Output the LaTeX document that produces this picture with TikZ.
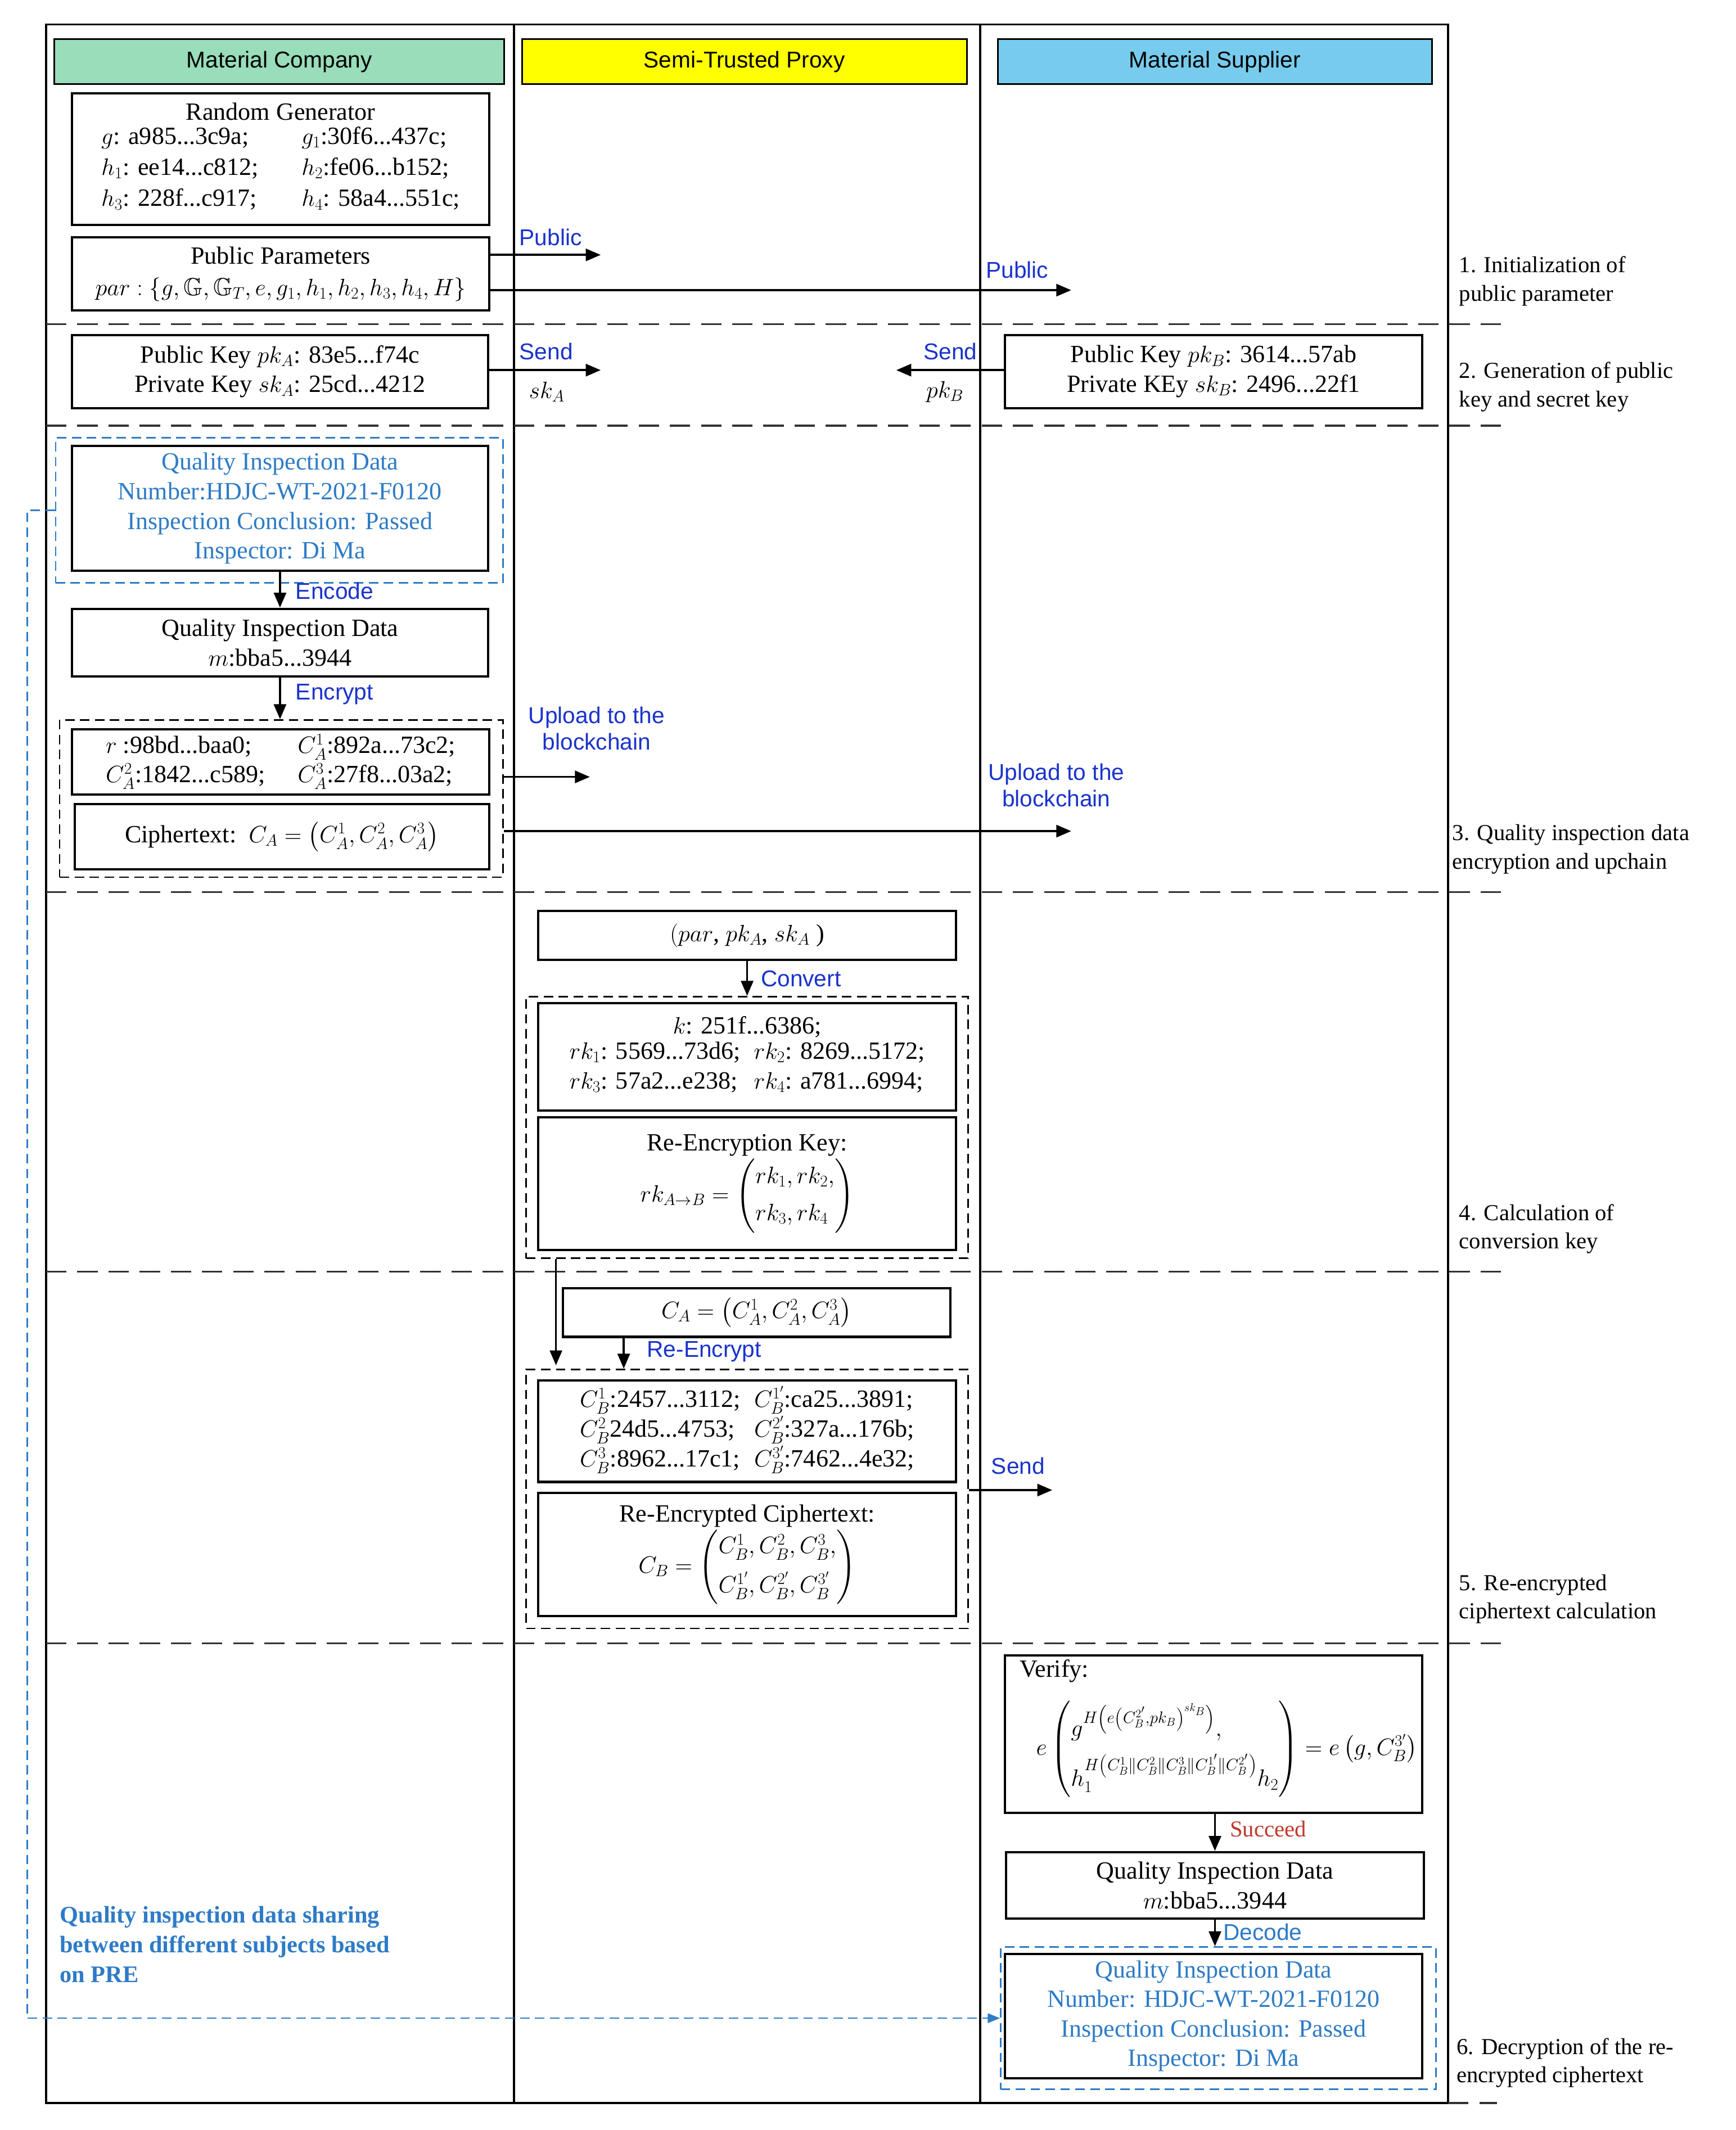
\documentclass[tikz,border=0pt]{standalone}
\usepackage{amsmath,amssymb}
\usepackage{fontspec}
\setmainfont{Liberation Serif}
\newfontfamily\hdr{Liberation Sans}
\usetikzlibrary{arrows.meta}
\definecolor{lblue}{HTML}{1A33CC}
\definecolor{dblue}{HTML}{2E7BC6}
\definecolor{hgreen}{HTML}{99DDBB}
\definecolor{hyellow}{HTML}{FFFF00}
\definecolor{hcyan}{HTML}{77CCEE}
\definecolor{sred}{HTML}{C0392B}
\begin{document}
\begin{tikzpicture}[x=0.05cm,y=-0.05cm,
  every node/.style={font=\fontsize{26}{31}\selectfont, inner sep=0pt},
  box/.style={draw, line width=2.4pt, align=center},
  hd/.style={draw, line width=1.8pt, font=\hdr\fontsize{24}{28}\selectfont, minimum height=1.65cm},
  dbox/.style={draw, dashed, line width=1.6pt, dash pattern=on 0.35cm off 0.2cm},
  bdbox/.style={dbox, draw=dblue},
  sep/.style={line width=2pt, draw=black!80, dash pattern=on 0.75cm off 0.4cm},
  arr/.style={line width=2.2pt, -{Triangle[length=0.55cm,width=0.45cm]}},
  lab/.style={font=\hdr\fontsize{24}{28}\selectfont, text=lblue, anchor=west, align=left},
  rl/.style={font=\fontsize{24}{30}\selectfont, anchor=north west, align=left}]
\useasboundingbox (0,0) rectangle (1280,1571);
\fill[white] (0,0) rectangle (1280,1571);
% frame
\draw[line width=2.2pt] (34,18) rectangle (1068,1551);
\draw[line width=2.2pt] (379,18) -- (379,1551);
\draw[line width=2.2pt] (723,18) -- (723,1551);
\foreach \yy in {239,314,658,938,1212} \draw[sep] (34,\yy) -- (1108,\yy);
\draw[sep] (1068,1551) -- (1104,1551);
% headers
\node[hd, fill=hgreen, minimum width=16.6cm] (h1) at (206,45.5) {Material Company};
\node[hd, fill=hyellow, minimum width=16.4cm] (h2) at (549,45.5) {Semi-Trusted Proxy};
\node[hd, fill=hcyan, minimum width=16.0cm] (h3) at (896,45.5) {Material Supplier};
% row 1
\node[box, minimum width=15.4cm, minimum height=4.85cm] (rg) at (207,117.5) {Random Generator\\[1pt]
\renewcommand{\arraystretch}{1.05}\begin{tabular}{@{}l@{\hspace{1.6cm}}l@{}}
$g$: a985...3c9a; & $g_1$:30f6...437c;\\
$h_1$: ee14...c812; & $h_2$:fe06...b152;\\
$h_3$: 228f...c917; & $h_4$: 58a4...551c;
\end{tabular}};
\node[box, minimum width=15.4cm, minimum height=2.7cm] (pp) at (207,202) {Public Parameters\\[2pt]
$par:\left\{g,\mathbb{G},\mathbb{G}_T,e,g_1,h_1,h_2,h_3,h_4,H\right\}$};
\coordinate (p1) at (443,188);
\coordinate (p2) at (790,214);
\draw[arr] (pp.east |- p1) -- (p1);
\draw[arr] (pp.east |- p2) -- (p2);
\node[lab] (lp1) at (383,175) {Public};
\node[lab] (lp2) at (727,199) {Public};
% row 2
\node[box, minimum width=15.35cm, minimum height=2.7cm] (ka) at (206.5,274) {Public Key $pk_A$: 83e5...f74c\\Private Key $sk_A$: 25cd...4212};
\node[box, minimum width=15.4cm, minimum height=2.7cm] (kb) at (895,274) {Public Key $pk_B$: 3614...57ab\\Private KEy $sk_B$: 2496...22f1};
\coordinate (s1) at (443,273);
\coordinate (s2) at (661,273);
\draw[arr] (ka.east |- s1) -- (s1);
\draw[arr] (kb.west |- s2) -- (s2);
\node[lab] (ls1) at (383,259) {Send};
\node[anchor=west] (ls1b) at (390,289) {$sk_A$};
\node[lab] (ls2) at (681,259) {Send};
\node[anchor=west] (ls2b) at (683,289) {$pk_B$};
% row 3
\node[bdbox, minimum width=16.5cm, minimum height=5.35cm] (qd1d) at (206,376.5) {};
\node[box, text=dblue, minimum width=15.35cm, minimum height=4.6cm] (qd1) at (206.5,375) {Quality Inspection Data\\Number:HDJC-WT-2021-F0120\\Inspection Conclusion: Passed\\Inspector: Di Ma};
\node[box, minimum width=15.35cm, minimum height=2.5cm] (md) at (206.5,474) {Quality Inspection Data\\$m$:bba5...3944};
\draw[arr] (qd1.south -| md.north) -- (md.north);
\node[lab] (len) at (218,436) {Encode};
\node[dbox, minimum width=16.35cm, minimum height=5.8cm] (cd) at (207.5,589) {};
\node[box, minimum width=15.4cm, minimum height=2.4cm] (cv) at (207,562) {\begin{tabular}{@{}l@{\hspace{1.2cm}}l@{}}
$r$ :98bd...baa0; & $C_A^1$:892a...73c2;\\
$C_A^2$:1842...c589; & $C_A^3$:27f8...03a2;
\end{tabular}};
\node[box, minimum width=15.3cm, minimum height=2.4cm] (ct) at (208,617) {Ciphertext:\ \ $C_A=\left(C_A^1,C_A^2,C_A^3\right)$};
\draw[arr] (md.south) -- (cd.north -| md.south);
\node[lab] (lenc) at (218,512) {Encrypt};
\coordinate (u1) at (435,573);
\coordinate (u2) at (790,613);
\draw[arr] (cd.east |- u1) -- (u1);
\draw[arr] (cd.east |- u2) -- (u2);
\node[lab, align=center, anchor=north] (lu1) at (440,521) {Upload to the\\blockchain};
\node[lab, align=center, anchor=north] (lu2) at (779,563) {Upload to the\\blockchain};
% row 4
\node[box, minimum width=15.4cm, minimum height=1.8cm] (ppk) at (551,690) {$(par$, $pk_A$, $sk_A$ )};
\node[dbox, minimum width=16.3cm, minimum height=9.65cm] (rkd) at (551,831.5) {};
\node[box, minimum width=15.4cm, minimum height=3.95cm] (rkv) at (551,779.5) {$k$: 251f...6386;\\
\begin{tabular}{@{}l@{\hspace{0.5cm}}l@{}}
$rk_1$: 5569...73d6; & $rk_2$: 8269...5172;\\
$rk_3$: 57a2...e238; & $rk_4$: a781...6994;
\end{tabular}};
\node[box, minimum width=15.4cm, minimum height=4.9cm] (rek) at (551,873) {Re-Encryption Key:\\[2pt]
$rk_{A\rightarrow B}=\left(\begin{array}{@{}l@{}}rk_1,rk_2,\\[8pt] rk_3,rk_4\end{array}\right)$};
\draw[arr] (ppk.south) -- (rkd.north -| ppk.south);
\node[lab] (lcv) at (561,722) {Convert};
% row 5
\node[box, minimum width=14.3cm, minimum height=1.8cm] (ca) at (558,968) {$C_A=\left(C_A^1,C_A^2,C_A^3\right)$};
\node[dbox, minimum width=16.3cm, minimum height=9.55cm] (red) at (551,1105.5) {};
\node[box, minimum width=15.4cm, minimum height=3.75cm] (cbv) at (551,1055.5) {\begin{tabular}{@{}l@{\hspace{0.5cm}}l@{}}
$C_B^1$:2457...3112; & $C_B^{1'}$:ca25...3891;\\
$C_B^2$24d5...4753; & $C_B^{2'}$:327a...176b;\\
$C_B^3$:8962...17c1; & $C_B^{3'}$:7462...4e32;
\end{tabular}};
\node[box, minimum width=15.4cm, minimum height=4.55cm] (rec) at (551,1146.5) {Re-Encrypted Ciphertext:\\[2pt]
$C_B=\left(\begin{array}{@{}l@{}}C_B^1,C_B^2,C_B^3,\\[10pt] C_B^{1'},C_B^{2'},C_B^{3'}\end{array}\right)$};
\coordinate (d1) at (410,1007);
\draw[arr] (rkd.south -| d1) -- (d1);
\draw[arr] (ca.south -| 460,0) -- (red.north -| 460,0);
\node[lab] (lre) at (477,997) {Re-Encrypt};
\coordinate (sd) at (776,1099);
\draw[arr] (red.east |- sd) -- (sd);
\node[lab] (lsd) at (731,1081) {Send};
% row 6
\node[box, minimum width=15.4cm, minimum height=5.8cm] (ver) at (895,1279) {};
\node[anchor=north west] (vt) at (752,1224) {Verify:};
\node[anchor=west, font=\fontsize{24}{29}\selectfont] (vf) at (764,1290) {$e\left(\begin{array}{@{}l@{}}g^{H\left(e\left(C_B^{2'},pk_B\right)^{sk_B}\right)},\\[10pt] h_1^{H\left(C_B^1\Vert C_B^2\Vert C_B^3\Vert C_B^{1'}\Vert C_B^{2'}\right)}h_2\end{array}\right)=e\left(g,C_B^{3'}\right)$};
\node[box, minimum width=15.4cm, minimum height=2.45cm] (md2) at (896,1390.5) {Quality Inspection Data\\$m$:bba5...3944};
\draw[arr] (ver.south -| md2.north) -- (md2.north);
\node[anchor=west, text=sred, font=\fontsize{24}{28}\selectfont] (lsc) at (907,1349) {Succeed};
\node[bdbox, minimum width=16.05cm, minimum height=5.25cm] (qd2d) at (898.5,1488.5) {};
\node[box, text=dblue, minimum width=15.4cm, minimum height=4.6cm] (qd2) at (895,1487) {Quality Inspection Data\\Number: HDJC-WT-2021-F0120\\Inspection Conclusion: Passed\\Inspector: Di Ma};
\draw[arr] (md2.south) -- (qd2d.north -| md2.south);
\node[lab, text=dblue] (ldc) at (902,1425) {Decode};
% sharing line
\draw[bdbox, line width=1.6pt, -{Triangle[length=0.45cm,width=0.35cm]}] (qd1d.west) -- (20,376.5) |- (qd2d.west);
\node[anchor=north west, align=left, text=dblue, font=\bfseries\fontsize{25}{31}\selectfont] (share) at (44,1406) {Quality inspection data sharing\\between different subjects based\\on PRE};
% row labels
\node[rl] (r1) at (1076,189) {1. Initialization of\\public parameter};
\node[rl] (r2) at (1076,267) {2. Generation of public\\key and secret key};
\node[rl] (r3) at (1071,608) {3. Quality inspection data\\encryption and upchain};
\node[rl] (r4) at (1076,888) {4. Calculation of\\conversion key};
\node[rl] (r5) at (1076,1161) {5. Re-encrypted\\ciphertext calculation};
\node[rl] (r6) at (1074,1503) {6. Decryption of the re-\\encrypted ciphertext};
\end{tikzpicture}
\end{document}
